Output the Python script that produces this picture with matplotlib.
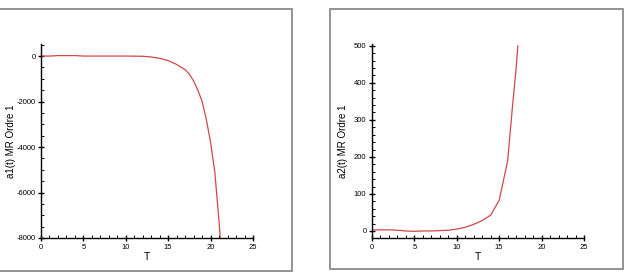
import matplotlib
matplotlib.use("Agg")
import matplotlib.pyplot as plt
from matplotlib.patches import Rectangle
from matplotlib.ticker import MultipleLocator

plt.rcParams["font.family"] = ["Liberation Sans", "DejaVu Sans"]
plt.rcParams["axes.unicode_minus"] = False

# values
t1 = [0, 1, 2, 3, 4, 5, 6, 8, 10, 12, 13, 14, 15, 16, 17, 17.5, 18, 18.5, 19, 19.5, 20, 20.5, 21, 21.2]
a1 = [0, 0, 20, 20, 20, 0, 0, 0, 0, -10, -40, -100, -200, -370, -600, -800, -1100, -1500,
      -2000, -2800, -3800, -5100, -7300, -8300]

t2 = [0, 1, 2, 3, 4, 5, 6, 7, 8, 9, 10, 11, 12, 13, 14, 15, 16, 16.5, 17, 17.2]
a2 = [3, 3, 3, 2, 0, -1, 0, 0, 1, 2, 5, 10, 18, 28, 43, 83, 190, 320, 440, 500]

line_color = "#d04848"

fig = plt.figure(figsize=(6.3, 2.74), dpi=100)

# grey frames around each panel (figure pixels)
for x0, y0, x1, y1 in [(-3, 9, 292, 271), (330, 9, 623, 269)]:
    fig.patches.append(Rectangle((x0 / 630, 1 - y1 / 274), (x1 - x0) / 630, (y1 - y0) / 274,
                                 transform=fig.transFigure, fill=False,
                                 edgecolor="#8a8a8a", linewidth=1.3))


def style_axes(ax, ymaj, ymin):
    for side in ["top", "right"]:
        ax.spines[side].set_visible(False)
    for side in ["left", "bottom"]:
        ax.spines[side].set_linewidth(1.0)
    ax.set_xlim(0, 25)
    ax.xaxis.set_major_locator(MultipleLocator(5))
    ax.xaxis.set_minor_locator(MultipleLocator(1))
    ax.yaxis.set_major_locator(MultipleLocator(ymaj))
    ax.yaxis.set_minor_locator(MultipleLocator(ymin))
    ax.tick_params(which="major", direction="inout", length=5, width=1.0, labelsize=5.5, pad=1.5)
    ax.tick_params(which="minor", direction="in", length=2.5, width=0.7)
    ax.set_xlabel("T", fontsize=7.5, labelpad=1)


ax1 = fig.add_axes([41 / 630, 1 - 238 / 274, 212 / 630, 194 / 274])
ax1.plot(t1, a1, color=line_color, linewidth=0.9)
style_axes(ax1, 2000, 500)
ax1.set_ylim(-8000, 530)
ax1.set_ylabel("a1(t) MR Ordre 1", fontsize=7)
ax1.yaxis.set_label_coords(-0.118, 0.5)

ax2 = fig.add_axes([372 / 630, 1 - 238 / 274, 212 / 630, 194 / 274])
ax2.plot(t2, a2, color=line_color, linewidth=0.9)
style_axes(ax2, 100, 20)
ax2.set_ylim(-19, 505)
ax2.set_ylabel("a2(t) MR Ordre 1", fontsize=7)
ax2.yaxis.set_label_coords(-0.113, 0.5)

fig.savefig("out.png", dpi=100)
